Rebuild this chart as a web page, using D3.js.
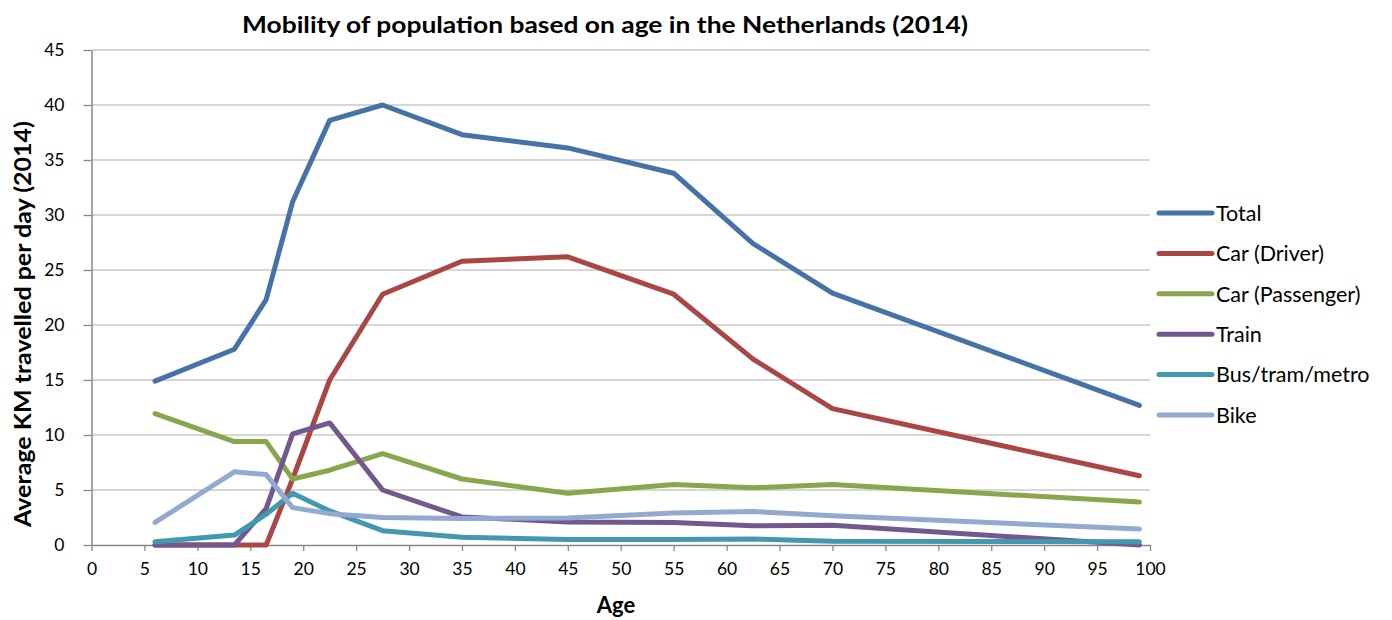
<!DOCTYPE html>
<html>
<head>
<meta charset="utf-8">
<script src="https://cdn.jsdelivr.net/npm/d3@7"></script>
<style>
  html, body { margin: 0; padding: 0; background: #ffffff; }
  svg { display: block; font-family: Lato, "Open Sans", sans-serif; }
</style>
</head>
<body>
<svg id="chart" width="1392" height="620"></svg>
<script>
// Age groups (mid-points, years)
const ages = [6, 13.5, 16.5, 19, 22.5, 27.5, 35, 45, 55, 62.5, 70, 99];

// Average km travelled per person per day, by mode
const total        = [14.9, 17.8, 22.3, 31.2, 38.6, 40.0, 37.3, 36.1, 33.8, 27.4, 22.9, 12.7];
const carDriver    = [0, 0, 0, 6.0, 15.0, 22.8, 25.8, 26.2, 22.8, 16.9, 12.4, 6.3];
const carPassenger = [11.95, 9.4, 9.4, 6.0, 6.8, 8.3, 6.0, 4.7, 5.5, 5.2, 5.5, 3.9];
const train        = [0, 0, 3.3, 10.1, 11.1, 5.0, 2.55, 2.1, 2.05, 1.75, 1.8, 0];
const busTramMetro = [0.3, 0.9, 2.8, 4.7, 3.1, 1.3, 0.7, 0.5, 0.5, 0.55, 0.35, 0.3];
const bike         = [2.05, 6.65, 6.4, 3.4, 2.85, 2.5, 2.4, 2.45, 2.9, 3.05, 2.65, 1.45];

const seriesNames  = ["Total", "Car (Driver)", "Car (Passenger)", "Train", "Bus/tram/metro", "Bike"];
const seriesValues = [total, carDriver, carPassenger, train, busTramMetro, bike];
const seriesColors = ["#4572A7", "#AA4643", "#89A54E", "#71588F", "#4198AF", "#93A9CF"];

const xTicks = d3.range(0, 101, 5);
const yTicks = d3.range(0, 46, 5);

const chartTitle = "Mobility of population based on age in the Netherlands (2014)";
const xTitle = "Age";
const yTitle = "Average KM travelled per day (2014)";

// ---- layout ----
const plot = { left: 91.5, right: 1150, top: 50, bottom: 545 };
const svg = d3.select("#chart");

const x = d3.scaleLinear().domain([0, 100]).range([plot.left, plot.right]);
const y = d3.scaleLinear().domain([0, 45]).range([plot.bottom, plot.top]);

// horizontal gridlines
svg.append("g")
  .attr("class", "grid")
  .selectAll("line")
  .data(yTicks.filter(d => d > 0))
  .join("line")
  .attr("x1", plot.left).attr("x2", plot.right)
  .attr("y1", d => y(d)).attr("y2", d => y(d))
  .attr("stroke", "#c9c9c9")
  .attr("stroke-width", 1.5);

// y axis
const yAxis = svg.append("g")
  .attr("transform", `translate(${plot.left},0)`)
  .call(d3.axisLeft(y).tickValues(yTicks).tickSize(8).tickPadding(19).tickSizeOuter(0));

// x axis
const xAxis = svg.append("g")
  .attr("transform", `translate(0,${plot.bottom})`)
  .call(d3.axisBottom(x).tickValues(xTicks).tickSize(6).tickPadding(12).tickSizeOuter(0));

[yAxis, xAxis].forEach(g => {
  g.select(".domain").attr("stroke", "#878787").attr("stroke-width", 1.5);
  g.selectAll(".tick line").attr("stroke", "#878787").attr("stroke-width", 1.3);
  g.selectAll(".tick text")
    .attr("fill", "#000")
    .style("font-family", "Lato, sans-serif")
    .style("font-size", "17.5px");
});

// series lines
const line = d3.line()
  .x((d, i) => x(ages[i]))
  .y(d => y(d));

svg.append("g")
  .selectAll("path")
  .data(seriesValues)
  .join("path")
  .attr("d", d => line(d))
  .attr("fill", "none")
  .attr("stroke", (d, i) => seriesColors[i])
  .attr("stroke-width", 5)
  .attr("stroke-linejoin", "round")
  .attr("stroke-linecap", "round");

// title
svg.append("text")
  .attr("x", 605)
  .attr("y", 33)
  .attr("text-anchor", "middle")
  .style("font-weight", "bold")
  .style("font-size", "22.5px")
  .attr("textLength", 726)
  .attr("lengthAdjust", "spacingAndGlyphs")
  .text(chartTitle);

// axis titles
svg.append("text")
  .attr("x", 616)
  .attr("y", 613)
  .attr("text-anchor", "middle")
  .style("font-weight", "bold")
  .style("font-size", "22px")
  .text(xTitle);

svg.append("text")
  .attr("transform", "translate(31,324) rotate(-90)")
  .attr("text-anchor", "middle")
  .style("font-weight", "bold")
  .style("font-size", "22.5px")
  .attr("textLength", 406)
  .attr("lengthAdjust", "spacingAndGlyphs")
  .text(yTitle);

// legend
const legend = svg.append("g").attr("transform", "translate(1159,213)");
const rows = legend.selectAll("g")
  .data(seriesNames)
  .join("g")
  .attr("transform", (d, i) => `translate(0,${i * 40.4})`);

rows.append("line")
  .attr("x1", 0).attr("x2", 53)
  .attr("y1", 0).attr("y2", 0)
  .attr("stroke", (d, i) => seriesColors[i])
  .attr("stroke-width", 5)
  .attr("stroke-linecap", "round");

rows.append("text")
  .attr("x", 57)
  .attr("y", 0)
  .attr("dy", "0.36em")
  .style("font-size", "21.5px")
  .text(d => d);
</script>
</body>
</html>
